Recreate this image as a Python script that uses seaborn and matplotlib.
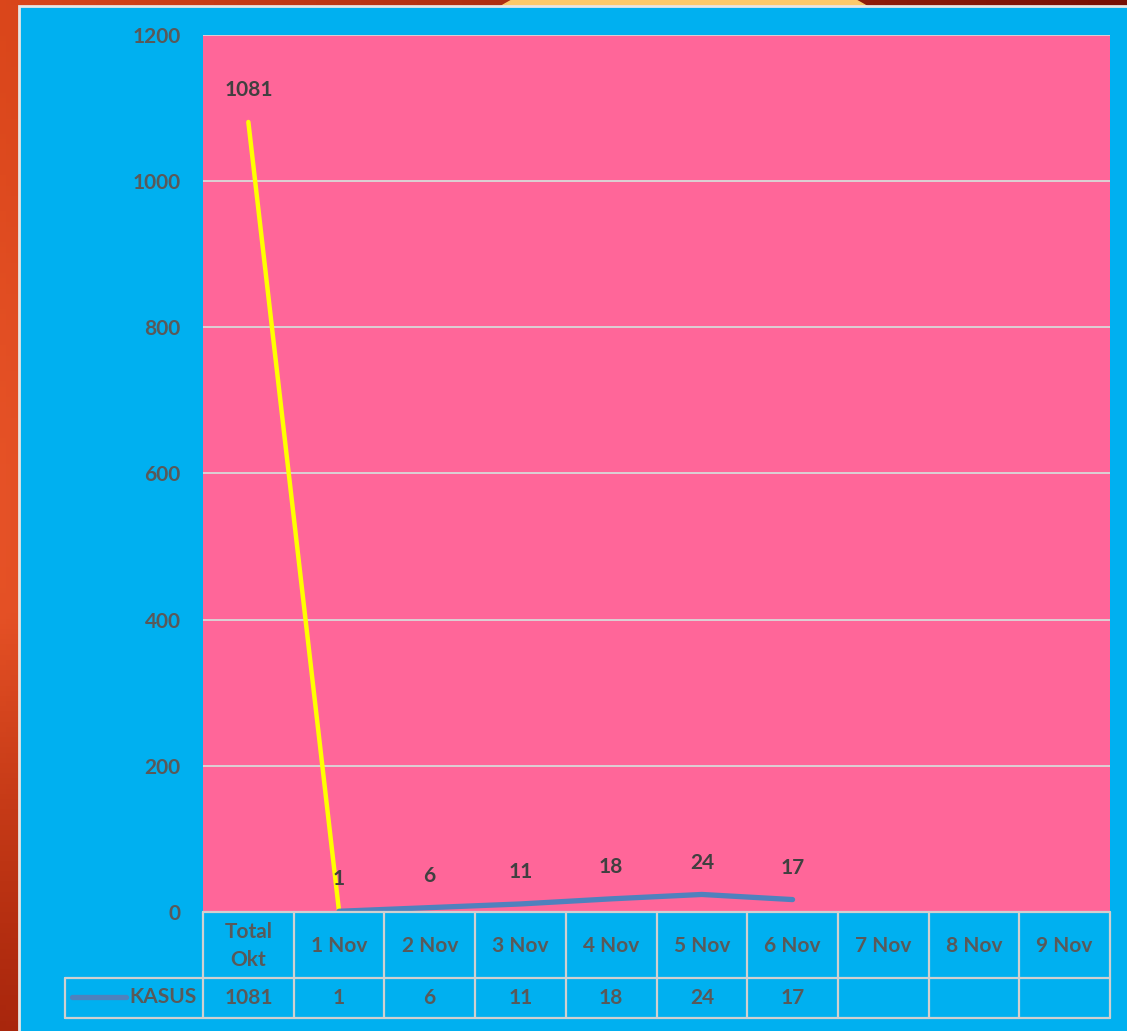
import numpy as np
import pandas as pd
import matplotlib
matplotlib.use('Agg')
import matplotlib.pyplot as plt
from matplotlib.patches import Rectangle, Ellipse
import seaborn as sns

# data
categories = ['Total\nOkt', '1 Nov', '2 Nov', '3 Nov', '4 Nov', '5 Nov',
              '6 Nov', '7 Nov', '8 Nov', '9 Nov']
kasus = [1081, 1, 6, 11, 18, 24, 17, None, None, None]
series_name = 'KASUS'
y_ticks = [0, 200, 400, 600, 800, 1000, 1200]

COLORS = {
    'panel': '#00B0F0',
    'plot': '#FF6699',
    'total': '#FFFF00',
    'line': '#4F81BD',
    'text': '#595959',
    'label': '#404040',
    'grid': '#D9D9D9',
}
FS = 15

sns.set_theme(style='white')
plt.rcParams['font.family'] = ['Lato', 'DejaVu Sans']
plt.rcParams['font.weight'] = 'bold'

W, H = 1127, 1031
fig = plt.figure(figsize=(W / 100, H / 100), dpi=100)

# background (slide)
bg = fig.add_axes([0, 0, 1, 1])
bg.set_xlim(0, W)
bg.set_ylim(H, 0)
bg.axis('off')
gx, gy = np.meshgrid(np.linspace(0, 1, 200), np.linspace(0, 1, 200))
c_left = np.array([0.85, 0.27, 0.10])
c_right = np.array([0.47, 0.06, 0.02])
c_bot = np.array([0.66, 0.15, 0.05])
t = gx[..., None]
img = c_left * (1 - t) + c_right * t
img = np.clip(img + np.exp(-((gy - 0.5) / 0.35) ** 2)[..., None] * (1 - t) * 0.05, 0, 1)
bot = np.clip((gy - 0.6) / 0.4, 0, 1)[..., None] * (1 - t)
img = img * (1 - bot) + c_bot * bot
bg.imshow(img, extent=[0, W, H, 0], aspect='auto', zorder=0)
bg.add_patch(Ellipse((684, 120), 520, 320, color='#FCC96A', zorder=1))
bg.add_patch(Rectangle((19, 6), W, H, facecolor=COLORS['panel'],
                       edgecolor='#E6E6E6', linewidth=2, zorder=2))

# main plot
px0, px1, py0, py1 = 203, 1110, 35, 912
ax = fig.add_axes([px0 / W, 1 - py1 / H, (px1 - px0) / W, (py1 - py0) / H])
ax.set_facecolor(COLORS['plot'])

x = np.arange(len(categories))
df = pd.DataFrame({'x': x, 'kasus': kasus})
sns.lineplot(data=df.iloc[0:2], x='x', y='kasus', ax=ax,
             color=COLORS['total'], linewidth=3.2, solid_capstyle='round')
sns.lineplot(data=df.iloc[1:7], x='x', y='kasus', ax=ax,
             color=COLORS['line'], linewidth=3.8, solid_capstyle='round')

for xi, v in zip(x, kasus):
    if v is None:
        continue
    ax.annotate(str(v), (xi, v), xytext=(0, 23), textcoords='offset points',
                ha='center', va='center', fontsize=FS, fontweight='bold',
                color=COLORS['label'], annotation_clip=False)

ax.set_xlim(-0.5, len(categories) - 0.5)
ax.set_ylim(0, 1200)
ax.set_yticks(y_ticks)
ax.set_yticklabels([str(v) for v in y_ticks], fontsize=FS,
                   fontweight='bold', color=COLORS['text'])
ax.tick_params(axis='y', length=0, pad=16)
ax.set_xticks([])
ax.set_xlabel('')
ax.set_ylabel('')
for yv in y_ticks[1:]:
    ax.axhline(yv, color=COLORS['grid'], linewidth=1.3, zorder=1)
for s in ax.spines.values():
    s.set_visible(False)

# data table
tx0, ty0, ty1, ty2 = 65, 912, 978, 1018
tab = fig.add_axes([tx0 / W, 1 - ty2 / H, (px1 - tx0) / W, (ty2 - ty0) / H])
tab.set_xlim(tx0, px1)
tab.set_ylim(ty2, ty0)
tab.axis('off')
colw = (px1 - px0) / len(categories)
grid_kw = dict(color='#D0D0D0', linewidth=1.6, clip_on=False)

tab.plot([px0, px1], [ty0, ty0], **grid_kw)
tab.plot([tx0, px1], [ty1, ty1], **grid_kw)
tab.plot([tx0, px1], [ty2, ty2], **grid_kw)
tab.plot([tx0, tx0], [ty1, ty2], **grid_kw)
for i in range(len(categories) + 1):
    xv = px0 + i * colw
    tab.plot([xv, xv], [ty0, ty2], **grid_kw)

for i, (cat, v) in enumerate(zip(categories, kasus)):
    cx = px0 + (i + 0.5) * colw
    tab.text(cx, (ty0 + ty1) / 2 + 1, cat, ha='center', va='center',
             fontsize=FS, fontweight='bold', color=COLORS['text'],
             linespacing=1.5)
    if v is not None:
        tab.text(cx, (ty1 + ty2) / 2, str(v), ha='center', va='center',
                 fontsize=FS, fontweight='bold', color=COLORS['text'])

tab.plot([72, 126], [997, 997], color=COLORS['line'], linewidth=3.8,
         solid_capstyle='round', clip_on=False)
tab.text(197, 997, series_name, ha='right', va='center', fontsize=FS,
         fontweight='bold', color=COLORS['text'])

fig.savefig('out.png', dpi=100)
